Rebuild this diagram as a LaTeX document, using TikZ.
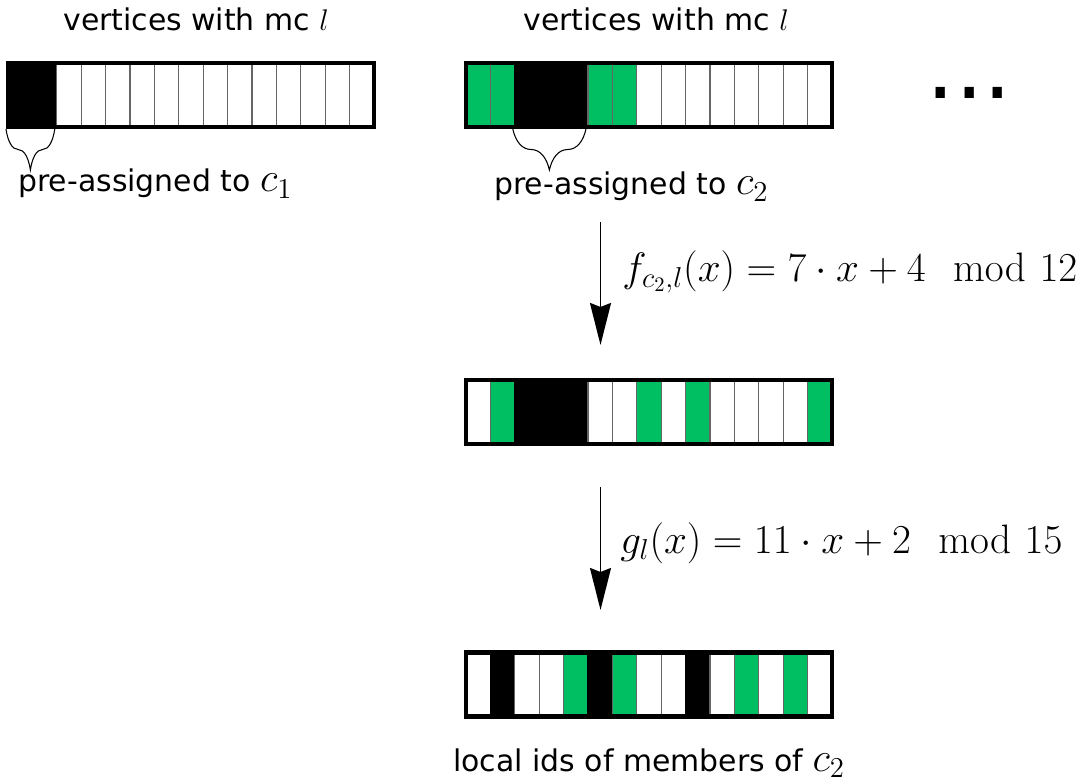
\RequirePackage{fix-cm}
\documentclass[tikz,border=0pt]{standalone}
\usepackage{amsmath}
\usepackage[no-math]{fontspec}
\newfontfamily\labelfont{DejaVu Sans}
\usetikzlibrary{arrows.meta}
\usetikzlibrary{decorations.pathreplacing}

\definecolor{idgreen}{RGB}{0,190,98}
% math in the labels is set a bit larger than the text
\newcommand{\lmath}[1]{{\fontsize{23.4}{28}\selectfont$#1$}}

\tikzset{
  idrow/.style={draw,line width=2.3pt,minimum width=7.32cm,minimum height=1.28cm,inner sep=0pt},
  idcell/.style={line width=0.6pt},
  cB/.style={fill=black,draw=black},
  cG/.style={fill=idgreen,draw=black!60},
  cW/.style={fill=white,draw=black!60},
  lbl/.style={font=\labelfont\fontsize{17}{20}\selectfont,inner sep=0pt,anchor=base west},
  fn/.style={font=\fontsize{23.4}{28}\selectfont,inner sep=0pt,anchor=west},
  brc/.style={decorate,decoration={brace,amplitude=0.82cm,mirror},line width=0.6pt},
}

\begin{document}
\begin{tikzpicture}[>={Stealth[length=0.84cm,width=0.42cm,inset=0.08cm]}]
    \useasboundingbox (0,0) rectangle (21.74,15.62);
    % the four id arrays, 15 cells each
    \foreach \c [count=\i from 0] in {B,B,W,W,W,W,W,W,W,W,W,W,W,W,W}
      \draw[idcell,c\c] (0.16+\i*0.488,13.08) rectangle +(0.488,1.28);
    \foreach \c [count=\i from 0] in {G,G,B,B,B,G,G,W,W,W,W,W,W,W,W}
      \draw[idcell,c\c] (9.32+\i*0.488,13.08) rectangle +(0.488,1.28);
    \foreach \c [count=\i from 0] in {W,G,B,B,B,W,W,G,W,G,W,W,W,W,G}
      \draw[idcell,c\c] (9.32+\i*0.488,6.74) rectangle +(0.488,1.28);
    \foreach \c [count=\i from 0] in {W,B,W,W,G,B,G,W,W,B,W,G,W,G,W}
      \draw[idcell,c\c] (9.32+\i*0.488,1.29) rectangle +(0.488,1.28);
    \node[idrow] (mc1) at (3.82,13.72) {};
    \node[idrow] (mc2) at (12.98,13.72) {};
    \node[idrow] (perm) at (12.98,7.38) {};
    \node[idrow] (local) at (12.98,1.93) {};

    \node[lbl] (top1) at (1.26,15.0) {vertices with mc $l$};
    \node[lbl] (top2) at (10.46,15.0) {vertices with mc $l$};
    \node[font=\labelfont\fontsize{51}{60}\selectfont,inner sep=0pt] (more) at (19.39,13.76) {...};

    % pre-assigned blocks
    \draw[brc] (mc1.south west) -- ++(0.976,0);
    \draw[brc] ([xshift=0.976cm]mc2.south west) -- ++(1.464,0);
    \node[lbl] (pre1) at (0.36,11.78) {pre-assigned to \lmath{c_1}};
    \node[lbl] (pre2) at (9.88,11.72) {pre-assigned to \lmath{c_2}};

    % the two maps
    \coordinate (f from) at (12.01,11.18); \coordinate (f to) at (12.01,8.72);
    \coordinate (g from) at (12.01,5.88); \coordinate (g to) at (12.01,3.42);
    \draw[->,line width=1.1pt] (f from) -- (f to);
    \draw[->,line width=1.1pt] (g from) -- (g to);
    \node[fn] (f) at (12.44,10.18) {$f_{c_2,l}(x) = 7\cdot x + 4 \mod 12$};
    \node[fn] (g) at (12.40,4.76) {$g_l(x) = 11\cdot x + 2 \mod 15$};

    \node[lbl] (ids) at (9.06,0.2) {local ids of members of \lmath{c_2}};
\end{tikzpicture}
\end{document}
